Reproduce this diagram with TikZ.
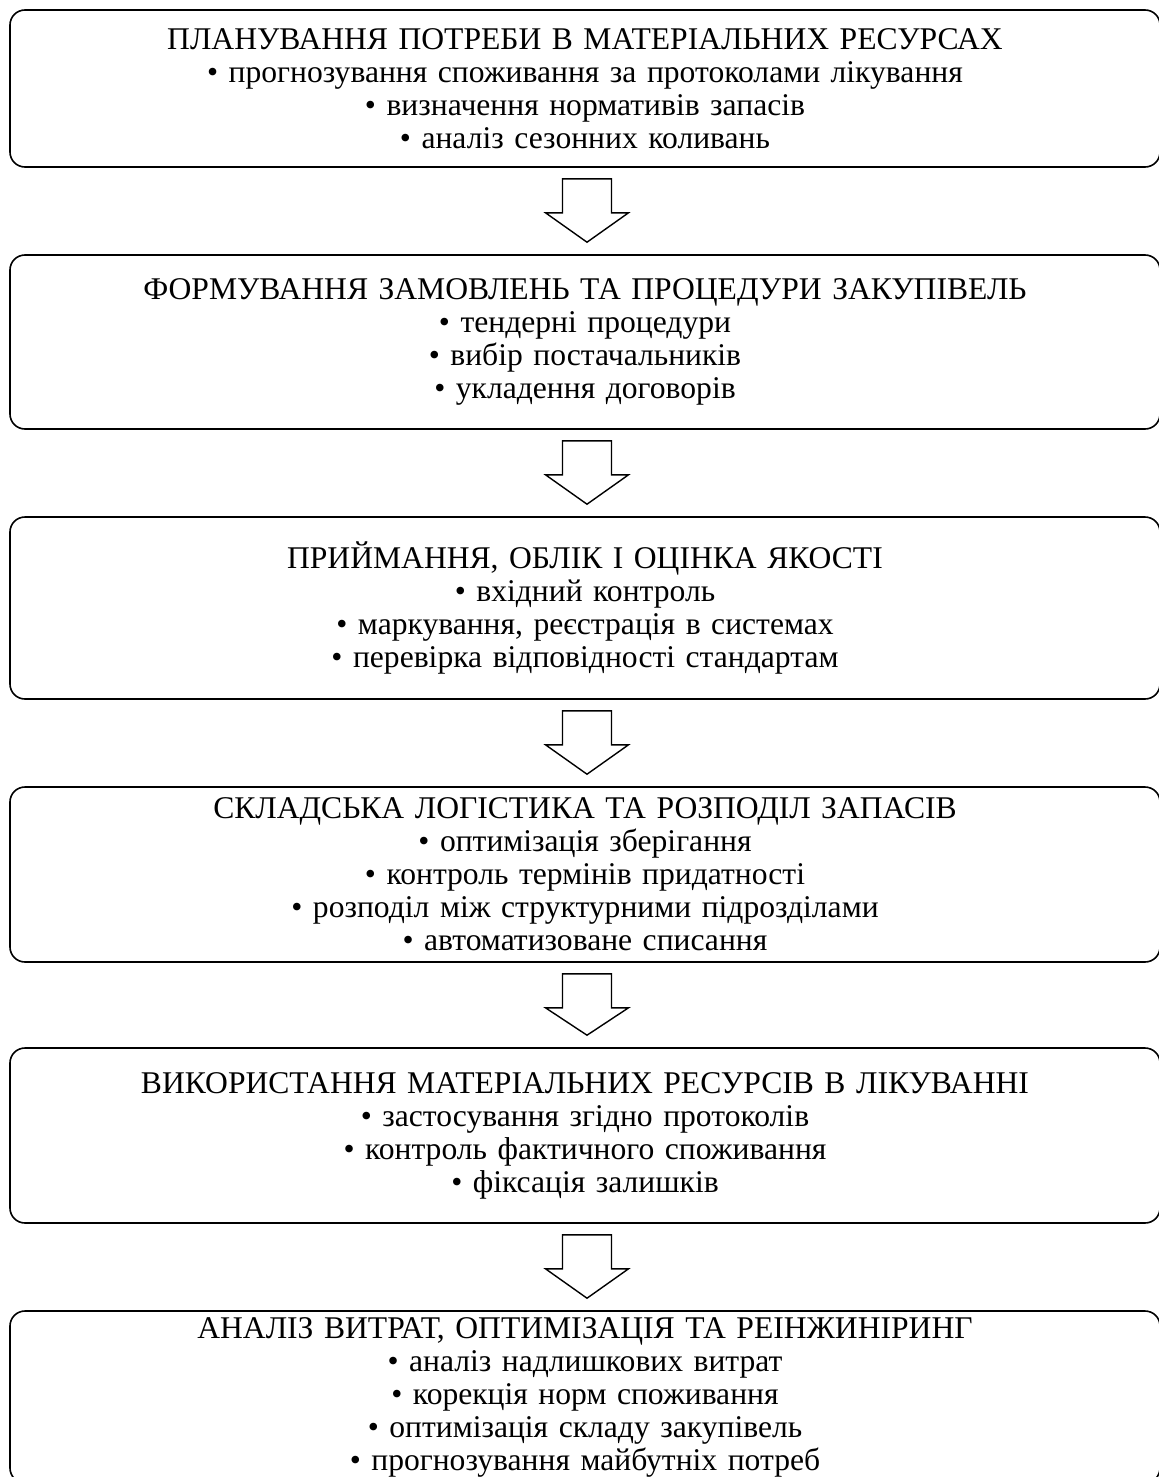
\documentclass[tikz,border=0pt]{standalone}
\usepackage{fontspec}
\setmainfont{Liberation Serif}
\usetikzlibrary{calc}

\tikzset{
    stagebox/.style={draw, line width=0.8pt, rounded corners=7.5pt, minimum width=575pt, text width=570pt, align=center, inner sep=0pt, font=\fontsize{15.8pt}{16.5pt}\selectfont},
    blockarrow/.style={draw, line width=0.7pt, line join=miter}
}

\begin{document}
\begin{tikzpicture}[x=0.5pt, y=-0.5pt]
    \useasboundingbox (0, 0) rectangle (1159, 1477);
    \node[stagebox, minimum height=78.5pt] (plan) at (585, 88.5) {ПЛАНУВАННЯ ПОТРЕБИ В МАТЕРІАЛЬНИХ РЕСУРСАХ\\• прогнозування споживання за протоколами лікування\\• визначення нормативів запасів\\• аналіз сезонних коливань};
    \node[stagebox, minimum height=87pt] (order) at (585, 342) {ФОРМУВАННЯ ЗАМОВЛЕНЬ ТА ПРОЦЕДУРИ ЗАКУПІВЕЛЬ\\• тендерні процедури\\• вибір постачальників\\• укладення договорів};
    \node[stagebox, minimum height=91pt] (accept) at (585, 608) {ПРИЙМАННЯ, ОБЛІК І ОЦІНКА ЯКОСТІ\\• вхідний контроль\\• маркування, реєстрація в системах\\• перевірка відповідності стандартам};
    \node[stagebox, minimum height=87.5pt] (store) at (585, 874.5) {СКЛАДСЬКА ЛОГІСТИКА ТА РОЗПОДІЛ ЗАПАСІВ\\• оптимізація зберігання\\• контроль термінів придатності\\• розподіл між структурними підрозділами\\• автоматизоване списання};
    \node[stagebox, minimum height=87.5pt] (use) at (585, 1135.5) {ВИКОРИСТАННЯ МАТЕРІАЛЬНИХ РЕСУРСІВ В ЛІКУВАННІ\\• застосування згідно протоколів\\• контроль фактичного споживання\\• фіксація залишків};
    \node[stagebox, minimum height=86pt] (review) at (585, 1397) {АНАЛІЗ ВИТРАТ, ОПТИМІЗАЦІЯ ТА РЕІНЖИНІРИНГ\\• аналіз надлишкових витрат\\• корекція норм споживання\\• оптимізація складу закупівель\\• прогнозування майбутніх потреб};
    \foreach \a/\b in {plan/order, order/accept, accept/store, store/use, use/review} {
        \draw[blockarrow] ($(\a.south)+(-22.5,11)$) -- ($(\a.south)+(26.5,11)$) -- ($(\a.south)+(26.5,45)$) -- ($(\a.south)+(43.5,45)$) -- ($(\b.north)+(2,-12)$) -- ($(\a.south)+(-39.5,45)$) -- ($(\a.south)+(-22.5,45)$) -- cycle;
    }
\end{tikzpicture}
\end{document}
